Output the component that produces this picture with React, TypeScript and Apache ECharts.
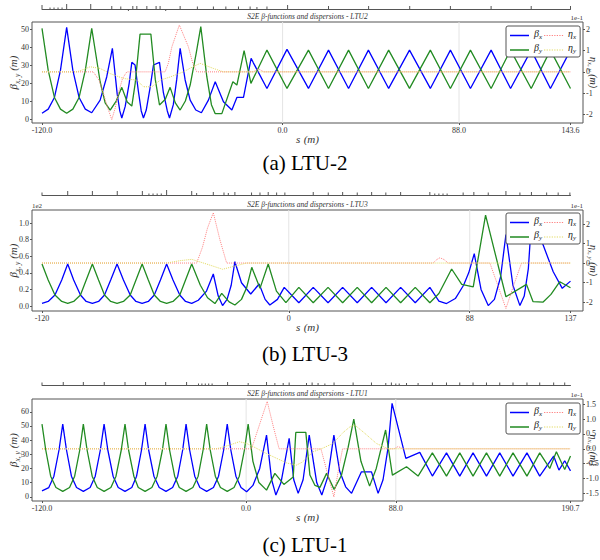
import { useEffect, useRef } from 'react';
import * as echarts from 'echarts';

type Pt = [number, number];

// ---------------- (a) LTU-2 ----------------
const ltu2BetaX: Pt[] = [
  [-120, 3.2], [-116.9, 5.5], [-113.8, 12], [-110.8, 27], [-107.7, 50.9], [-104.6, 27], [-101.5, 12], [-98.4, 5.5],
  [-95.2, 3.5], [-91, 10.5], [-87.7, 23.5], [-84.9, 39.3], [-82.5, 14], [-81.2, 4.5], [-80.2, 0.6], [-78.5, 7],
  [-76.5, 20], [-75.2, 31.5], [-73.6, 30], [-72, 16], [-70.5, 4.5], [-69.4, 0.6], [-68, 5], [-66, 18], [-64.4, 30],
  [-61.4, 31.5], [-59.5, 15], [-57.5, 4.5], [-56.4, 0.6], [-54.5, 8], [-52.8, 22], [-51.1, 39.3], [-48.6, 21.7],
  [-46.1, 10.5], [-43.3, 5], [-40.5, 3.5], [-37, 10.5], [-33.6, 20.7], [-29.5, 9.6], [-25.3, 5], [-22.8, 12],
  [-19.5, 12], [-15.7, 33.7], [-14.7, 31.5], [-7.8, 17], [2.2, 38.7], [12.9, 17], [22.9, 38.3], [32.9, 17],
  [42.8, 38.3], [52.9, 17], [63.3, 38.3], [73.7, 17], [83.7, 38.3], [93.7, 17], [104, 38.3], [113.7, 17],
  [124, 38.3], [133.6, 17], [143.6, 38.3],
];
const ltu2BetaY: Pt[] = [
  [-120, 50.4], [-116.9, 27], [-113.8, 12], [-110.8, 5.5], [-107.7, 3.2], [-104.6, 5.5], [-101.5, 12], [-98.4, 27],
  [-95.2, 50.4], [-91, 20.7], [-88.5, 9], [-86, 5], [-83, 10], [-80.2, 17.6], [-77.5, 9.5], [-75.2, 7.2], [-73.5, 20],
  [-71.1, 47.2], [-65.7, 47.2], [-63.5, 22], [-61.4, 7.8], [-58.5, 11], [-56.1, 17.6], [-53.5, 9], [-51.1, 5],
  [-48.5, 10], [-46.1, 18.9], [-43.1, 36.5], [-40.8, 51.3], [-37.8, 23.5], [-35.5, 8], [-33.6, 3], [-30.3, 3],
  [-24.8, 20.7], [-22.8, 18.9], [-19.2, 38], [-15.8, 19.8], [-7.8, 38.3], [2.2, 17], [12.9, 38.3], [22.9, 17],
  [32.9, 38.3], [42.8, 17], [52.9, 38.3], [63.3, 17], [73.7, 38.3], [83.7, 17], [93.7, 38.3], [104, 17],
  [113.7, 38.3], [124, 17], [133.6, 38.3], [143.6, 17],
];
const ltu2EtaX: Pt[] = [
  [-120, 0], [-94.4, 0], [-91.5, -0.04], [-89.4, -0.1], [-87.2, -0.17], [-85.2, -0.224], [-83.5, -0.17],
  [-81.9, -0.1], [-79.8, -0.03], [-77.7, 0], [-58.6, 0], [-57, 0.04], [-55.2, 0.118], [-51.5, 0.22], [-47, 0.118],
  [-44.8, 0.04], [-42.8, 0], [-14.5, 0], [-12, 0.015], [-9.5, 0], [143.6, 0],
];
const ltu2EtaY: Pt[] = [
  [-120, 0], [-102.7, 0], [-99, 0.012], [-96, 0.024], [-91, 0.016], [-86, -0.008], [-79.4, -0.031], [-72.7, -0.039],
  [-69.4, -0.07], [-65.2, -0.07], [-61.1, -0.039], [-56.1, -0.024], [-49.5, 0], [-44.5, 0.025], [-41.1, 0.04],
  [-34.5, 0.016], [-29.5, 0], [143.6, 0],
];
const ltu2Lattice: Pt[] = [
  [-120, 0.8], [-116, 0.3], [-114, 0.3], [-112, 0.3], [-110, 0.3], [-107.7, 1], [-95.7, 1], [-85.2, 0.6],
  [-80.7, 0.5], [-76.9, -0.4], [-74.7, 0.6], [-72.7, 0.6], [-67.7, 0.6], [-63.1, 0.6], [-61.1, 0.6], [-58.3, -0.4],
  [-51.1, 0.6], [-42.5, 0.5], [-34.5, 0.5], [-28.3, 0.5], [-22, 0.5], [-16.2, 0.5], [-12.8, 0.4], [-7.8, 0.5],
  [2.5, 0.8], [22.9, 0.6], [42.9, 0.6], [63.4, 0.6], [83.7, 0.6], [104, 0.6], [124, 0.6], [143.6, 0.6],
];
const ltu2XTicks = [-120, 0, 88, 143.6];

// ---------------- (b) LTU-3 ----------------
const ltu3BetaX: Pt[] = [
  [-120, 3.2], [-117, 5.5], [-113.7, 13.3], [-110.4, 31.3], [-107.5, 50.6], [-104.6, 31.3], [-101.3, 13.3],
  [-98.5, 5.5], [-95.5, 3.2], [-92.5, 5.5], [-89.6, 13.3], [-86.6, 31.3], [-83.5, 50.6], [-80.4, 31.3],
  [-77.1, 13.3], [-74.3, 5.5], [-71.3, 3.2], [-68.3, 5.5], [-65.4, 13.3], [-62.4, 31.3], [-59.4, 50.6],
  [-56.3, 31.3], [-53, 13.3], [-50.2, 5.5], [-47.2, 3.2], [-44, 7], [-40, 18], [-36.7, 38.6], [-34.3, 12],
  [-32.2, 0.5], [-30, 8], [-28, 25], [-26.2, 53.4], [-23, 28], [-18.5, 14.5], [-14.4, 26.5], [-11.5, 8],
  [-9.2, 1.2], [-5.5, 8], [-2.2, 22.5], [4.9, 4], [11.9, 22.5], [19.1, 4], [26.2, 22.5], [33.3, 4], [40.3, 22.5],
  [47.3, 4], [54.4, 22.5], [61.5, 4], [68.6, 22.5], [73, 6], [76.7, 3], [81, 9], [85, 25], [87.5, 40], [90.2, 63],
  [93.5, 20], [97, 0.5], [100, 8], [103, 35], [105.6, 86], [109, 25], [112.4, 0.5], [114.5, 12], [116.5, 45],
  [118.2, 109.6], [121, 90], [123.7, 73.5], [128.6, 41.3], [133, 21.3], [137, 30],
];
const ltu3BetaY: Pt[] = [
  [-120, 50.6], [-117, 31.3], [-113.7, 13.3], [-110.4, 5.5], [-107.5, 3.2], [-104.6, 5.5], [-101.3, 13.3],
  [-98.5, 31.3], [-95.5, 50.6], [-92.5, 31.3], [-89.6, 13.3], [-86.6, 5.5], [-83.5, 3.2], [-80.4, 5.5],
  [-77.1, 13.3], [-74.3, 31.3], [-71.3, 50.6], [-68.3, 31.3], [-65.4, 13.3], [-62.4, 5.5], [-59.4, 3.2],
  [-56.3, 5.5], [-53, 13.3], [-50.2, 31.3], [-47.2, 50.6], [-43, 25], [-39.5, 10], [-35.9, 3], [-32.6, 15.3],
  [-29, 5], [-26.2, 1.2], [-23, 8], [-20.5, 22], [-18, 46.6], [-14, 21.3], [-10, 50.6], [-6, 18], [-1.4, 4],
  [4.9, 22.5], [11.9, 4], [19.1, 22.5], [26.2, 4], [33.3, 22.5], [40.3, 4], [47.3, 22.5], [54.4, 4], [61.5, 22.5],
  [68.6, 4], [73, 15], [79.2, 44.6], [84.1, 26.1], [89.7, 23], [95.7, 109.6], [105.6, 11.2], [115.6, 26.1],
  [118.8, 5.2], [123.7, 4.8], [127.5, 14], [131.8, 29.3], [137, 22],
];
const ltu3EtaX: Pt[] = [
  [-120, 0], [-44.8, 0], [-42, 0.08], [-39.5, 0.18], [-36.7, 0.258], [-33.5, 0.12], [-30.2, 0], [70.2, 0],
  [72, 0.018], [73.5, 0.027], [75.5, 0.018], [77.5, 0], [97.8, 0], [101.5, -0.11], [105.6, -0.233], [109.5, -0.11],
  [113.2, 0], [137, 0],
];
const ltu3EtaY: Pt[] = [
  [-120, 0], [-59.4, 0], [-53, 0.012], [-47.2, 0.019], [-40, -0.005], [-32.2, -0.032], [-26, -0.015], [-20.5, 0],
  [137, 0],
];
const ltu3Lattice: Pt[] = [
  [-120, 0.5], [-107.5, 0.8], [-95.5, 0.8], [-83.4, 0.8], [-71.2, 0.8], [-68, 0.3], [-66, 0.3], [-64, 0.3],
  [-62, 0.3], [-59.4, 1], [-47.2, 0.8], [-44.8, 0.4], [-36.7, 0.6], [-31.5, 0.5], [-29.4, 0.4], [-26.2, 0.6],
  [-18.1, 0.5], [-14, 0.5], [-10, 0.6], [-5.9, 0.5], [-1.9, 0.5], [11.9, 0.6], [19.2, 0.5], [26.2, 0.6],
  [33.3, 0.5], [40.3, 0.6], [47.2, 0.5], [54.4, 0.6], [68.6, 0.6], [71, 0.3], [73, 0.3], [75, 0.3], [77, 0.3],
  [84.8, 0.5], [90, 0.6], [97, 0.5], [105.6, 0.8], [112.4, 0.5], [118, 0.6], [125.4, 0.5], [131, 0.5], [136.7, 0.5],
];
const ltu3XTicks = [-120, 0, 88, 137];

// ---------------- (c) LTU-1 ----------------
const ltu1BetaX: Pt[] = [
  [-120, 4.2], [-116, 6.5], [-113, 14.5], [-110, 33], [-107.8, 51.3], [-105.6, 33], [-102.7, 14.5], [-99.7, 6.5],
  [-95.7, 3.8], [-91.7, 6.5], [-88.7, 14.5], [-85.7, 33], [-83.5, 51.3], [-81.3, 33], [-78.2, 14.5], [-75.2, 6.5],
  [-71.2, 3.8], [-67.2, 6.5], [-64.4, 14.5], [-61.5, 33], [-59.4, 51.3], [-57.3, 33], [-54.2, 14.5], [-51.1, 6.5],
  [-47.1, 3.8], [-43.2, 6.5], [-40.2, 14.5], [-37.3, 33], [-35.3, 51.3], [-33.2, 33], [-30.2, 14.5], [-27.2, 6.5],
  [-23.2, 3.8], [-19.2, 6.5], [-16.2, 14.5], [-13.2, 33], [-11.1, 51.3], [-9, 33], [-6, 14.5], [-3, 6.5],
  [0.3, 3.5], [4, 8], [8, 20], [12, 43.5], [15, 12], [17.5, 1.2], [20.5, 10], [25.3, 41.2], [28, 12], [30.6, 2.4],
  [33.5, 12], [37.1, 43.5], [41.5, 10], [44.5, 1.2], [48, 14], [51.6, 43.5], [55, 18], [58.5, 7], [62, 2.4],
  [67.8, 17.6], [73.7, 17.6], [77.6, 2.4], [80.5, 12], [83.5, 35], [85.8, 65.9], [93.9, 27.1], [102.1, 31.3],
  [109.5, 14.6], [117.8, 31], [125.6, 14.6], [133.4, 31], [141.3, 14.6], [149.1, 31], [156.9, 14.6], [165.1, 31],
  [172.6, 14.6], [180.8, 28.7], [183.9, 18.8], [187.3, 25.4], [190.7, 18.3],
];
const ltu1BetaY: Pt[] = [
  [-120, 51.3], [-117.8, 33], [-114.9, 14.5], [-111.8, 6.5], [-107.8, 3.8], [-103.8, 6.5], [-100.8, 14.5],
  [-97.8, 33], [-95.7, 51.3], [-93.5, 33], [-90.5, 14.5], [-87.5, 6.5], [-83.5, 3.8], [-79.5, 6.5], [-76.5, 14.5],
  [-73.4, 33], [-71.2, 51.3], [-69.1, 33], [-66, 14.5], [-63.4, 6.5], [-59.4, 3.8], [-55.4, 6.5], [-52.3, 14.5],
  [-49.2, 33], [-47.1, 51.3], [-45, 33], [-42, 14.5], [-39.3, 6.5], [-35.3, 3.8], [-31.3, 6.5], [-28.2, 14.5],
  [-25.3, 33], [-23.2, 51.3], [-21.1, 33], [-18.1, 14.5], [-15.1, 6.5], [-11.1, 3.8], [-7.1, 6.5], [-4, 14.5],
  [-1, 33], [1.2, 51.3], [4, 25], [7.5, 10], [12, 4.7], [16.9, 16.5], [22.2, 8.7], [27.7, 14], [29.2, 45.4],
  [35.1, 45.4], [37.5, 15.3], [40.5, 8], [43.4, 6.6], [47.3, 16.5], [51.7, 5.2], [56, 15], [60, 35], [63.3, 54.8],
  [67.5, 25], [72.6, 7.5], [76.5, 20], [82, 47.1], [86, 15.3], [94.3, 21.2], [101.1, 14.6], [109.5, 31],
  [117.8, 14.6], [125.6, 31], [133.4, 14.6], [141.3, 31], [149.1, 14.6], [156.9, 31], [165.1, 14.6], [172.6, 31],
  [178.5, 20], [182.4, 31.8], [187.3, 19.3], [190.7, 28.7],
];
const ltu1EtaX: Pt[] = [
  [-120, 0], [3.2, 0], [7.5, 0.075], [12.4, 0.16], [16, 0.075], [19.4, 0], [44, 0], [47, -0.065], [51.6, -0.162],
  [54, -0.08], [56.7, 0], [87, 0], [89.4, 0.008], [92, 0], [190.7, 0],
];
const ltu1EtaY: Pt[] = [
  [-120, 0], [-17.4, 0], [-10, 0.012], [-4, 0.024], [0.3, 0.018], [5, 0.005], [12, -0.016], [17.9, -0.032],
  [24, -0.048], [29.6, -0.055], [33, -0.045], [39.4, -0.01], [45, 0.002], [51, 0.018], [57, 0.055], [61, 0.074],
  [63.9, 0.08], [68.8, 0.057], [76.6, 0.018], [83.5, 0], [190.7, 0],
];
const ltu1Lattice: Pt[] = [
  [-120, 0.5], [-107.5, 0.6], [-95.7, 0.6], [-83.4, 0.6], [-71.2, 0.6], [-59.1, 0.6], [-47.3, 0.6], [-35, 0.6],
  [-28, 0.3], [-26, 0.3], [-24, 0.3], [-22, 0.3], [-20, 0.3], [-10.9, 0.6], [1.2, 0.4], [12, 0.6], [16.9, 0.4],
  [21.8, 0.4], [25.3, 0.5], [35.5, 0.4], [38.8, 0.5], [42.3, 0.4], [46.3, 0.3], [51.7, 0.5], [62.9, 0.5],
  [73.7, 0.5], [82.1, 0.4], [85.4, 0.5], [88, 0.3], [90, 0.3], [94.3, 0.4], [101.1, 0.4], [109.5, 0.5],
  [117.8, 0.5], [125.6, 0.5], [133.4, 0.5], [141.3, 0.5], [149.1, 0.5], [156.9, 0.5], [165.1, 0.5], [172.6, 0.5],
  [180.8, 0.5], [187.3, 0.5],
];
const ltu1XTicks = [-120, 0, 88, 190.7];

const gridLines = [0, 88];
const seriesNames = ['β_x', 'η_x', 'β_y', 'η_y'];
const titles = [
  'S2E β-functions and dispersions - LTU2',
  'S2E β-functions and dispersions - LTU3',
  'S2E β-functions and dispersions - LTU1',
];
const captions = ['(a) LTU-2', '(b) LTU-3', '(c) LTU-1'];

// ---------------- layout / style ----------------
const SERIF = "'Liberation Serif', 'Times New Roman', 'DejaVu Serif', serif";
const BLUE = '#0000ff';
const GREEN = '#228b22';
const RED = '#ff8080';
const YELLOW = '#e2da60';
const FRAME = '#555555';
const TEXT = '#333333';
const GRID_LEFT = 32;
const GRID_RIGHT = 17;
const PAD_L = 10;
const PAD_R = 12.5;
const PLOT_W = 600 - GRID_LEFT - GRID_RIGHT;

const panels = [
  {
    bx: ltu2BetaX, by: ltu2BetaY, ex: ltu2EtaX, ey: ltu2EtaY, lat: ltu2Lattice, ticks: ltu2XTicks, dec: 1,
    top: 22, height: 101, strip: 9, bRange: [-2.2, 53.9], eRange: [-0.24, 0.234], bScale: 1, eDec: 0,
    legendTop: 26, captionY: 163, leftExp: '',
  },
  {
    bx: ltu3BetaX, by: ltu3BetaY, ex: ltu3EtaX, ey: ltu3EtaY, lat: ltu3Lattice, ticks: ltu3XTicks, dec: 0,
    top: 210, height: 101, strip: 195, bRange: [-6, 115.7], eRange: [-0.246, 0.272], bScale: 100, eDec: 0,
    legendTop: 213, captionY: 354, leftExp: '1e2',
  },
  {
    bx: ltu1BetaX, by: ltu1BetaY, ex: ltu1EtaX, ey: ltu1EtaY, lat: ltu1Lattice, ticks: ltu1XTicks, dec: 1,
    top: 399, height: 102, strip: 385, bRange: [-3, 69], eRange: [-0.176, 0.168], bScale: 1, eDec: 1,
    legendTop: 403, captionY: 545, leftExp: '',
  },
];

// legend icons: a thin line (solid) or a row of dots (dotted), inside a 20x10 box
function lineIcon(dotted: boolean): string {
  const edges = 'M0,0h0.01v0.01h-0.01z M0,9.99h0.01v0.01h-0.01z ';
  if (!dotted) return 'path://' + edges + 'M0,4.3h20v1.4h-20z';
  let d = edges;
  for (let x = 0; x < 19.5; x += 2.5) d += `M${x},4.4h1.2v1.2h-1.2z `;
  return 'path://' + d;
}

const legendRich = {
  g: { fontFamily: SERIF, fontStyle: 'italic', fontSize: 10, color: '#222', verticalAlign: 'bottom', lineHeight: 9, padding: [0, 0, 2, 0] },
  s: { fontFamily: SERIF, fontStyle: 'italic', fontSize: 7, color: '#222', verticalAlign: 'bottom', lineHeight: 7 },
};
const nameRich = {
  g: { fontFamily: SERIF, fontStyle: 'italic', fontSize: 11, color: TEXT, verticalAlign: 'bottom', lineHeight: 11, padding: [0, 0, 3, 0] },
  s: { fontFamily: SERIF, fontStyle: 'italic', fontSize: 7.5, color: TEXT, verticalAlign: 'bottom', lineHeight: 8 },
};
const nameRichSmall = {
  g: { fontFamily: SERIF, fontStyle: 'italic', fontSize: 10, color: TEXT, verticalAlign: 'bottom', lineHeight: 10, padding: [0, 0, 2, 0] },
  s: { fontFamily: SERIF, fontStyle: 'italic', fontSize: 7, color: TEXT, verticalAlign: 'bottom', lineHeight: 7 },
};
const labelStyle = { fontFamily: SERIF, fontSize: 8, color: TEXT };

function buildOption() {
  const grid: any[] = [];
  const xAxis: any[] = [];
  const yAxis: any[] = [];
  const series: any[] = [];
  const legend: any[] = [];
  const graphic: any[] = [];

  panels.forEach((p, i) => {
    const s0 = p.bx[0][0];
    const s1 = p.bx[p.bx.length - 1][0];
    const k = (PLOT_W - PAD_L - PAD_R) / (s1 - s0);
    const xMin = s0 - PAD_L / k;
    const xMax = s1 + PAD_R / k;
    const gMain = 2 * i;
    const gStrip = 2 * i + 1;

    grid.push({
      left: GRID_LEFT, right: GRID_RIGHT, top: p.top, height: p.height, show: true,
      borderColor: FRAME, borderWidth: 1, containLabel: false, outerBoundsMode: 'none',
    });
    grid.push({
      left: GRID_LEFT + PAD_L, right: GRID_RIGHT + PAD_R, top: p.strip - 5, height: 10,
      containLabel: false, outerBoundsMode: 'none',
    });

    xAxis.push({
      gridIndex: gMain, type: 'value', min: xMin, max: xMax, position: 'bottom',
      name: '{g|s} {g|(m)}', nameLocation: 'middle', nameGap: 12, nameMoveOverlap: false,
      nameTextStyle: { rich: nameRich },
      axisLine: { show: false, onZero: false }, splitLine: { show: false },
      axisTick: { show: true, customValues: p.ticks, length: 2, lineStyle: { color: FRAME } },
      axisLabel: {
        ...labelStyle, customValues: p.ticks, margin: 3,
        color: () => TEXT,
        formatter: (v: number) => v.toFixed(p.dec),
      },
    });
    xAxis.push({
      gridIndex: gStrip, type: 'value', min: s0, max: s1,
      axisLine: { show: true, onZero: true, lineStyle: { color: FRAME, width: 1 } },
      axisTick: { show: false }, axisLabel: { show: false }, splitLine: { show: false },
    });

    yAxis.push({
      gridIndex: gMain, type: 'value', position: 'left', min: p.bRange[0], max: p.bRange[1],
      name: '{g|β}{s|x, y}{g| (m)}', nameLocation: 'middle', nameRotate: 90, nameGap: 11, nameMoveOverlap: false,
      nameTextStyle: { rich: nameRich },
      axisLine: { show: false, onZero: false }, splitLine: { show: false },
      axisTick: { show: true, length: 2, lineStyle: { color: FRAME } },
      axisLabel: {
        ...labelStyle, margin: 3, showMinLabel: false, showMaxLabel: false,
        formatter: (v: number) => (p.bScale === 1 ? String(Math.round(v)) : (v / p.bScale).toFixed(1)),
      },
    });
    yAxis.push({
      gridIndex: gMain, type: 'value', position: 'right', min: p.eRange[0], max: p.eRange[1],
      name: '{g|η}{s|x, y}{g| (m)}', nameLocation: 'middle', nameRotate: -90, nameGap: 3, nameMoveOverlap: false,
      nameTextStyle: { rich: nameRichSmall },
      axisLine: { show: false, onZero: false }, splitLine: { show: false },
      axisTick: { show: true, length: 2, lineStyle: { color: FRAME } },
      axisLabel: {
        ...labelStyle, margin: 3, showMinLabel: false, showMaxLabel: false,
        formatter: (v: number) => {
          const t = (v * 10).toFixed(p.eDec);
          return t === '-0' || t === '-0.0' ? t.slice(1) : t;
        },
      },
    });
    yAxis.push({ gridIndex: gStrip, type: 'value', min: -1, max: 1, show: false });

    const xi = 2 * i;
    const yl = 3 * i;
    const yr = 3 * i + 1;
    const base = { type: 'line', xAxisIndex: xi, symbol: 'none', showSymbol: false, silent: true };

    series.push({
      ...base, name: seriesNames[0], yAxisIndex: yl, data: p.bx, z: 3,
      lineStyle: { color: BLUE, width: 1.3 }, itemStyle: { color: BLUE },
    });
    series.push({
      ...base, name: seriesNames[2], yAxisIndex: yl, data: p.by, z: 3,
      lineStyle: { color: GREEN, width: 1.3 }, itemStyle: { color: GREEN },
    });
    series.push({
      ...base, name: seriesNames[1], yAxisIndex: yr, data: p.ex, z: 4,
      lineStyle: { color: RED, width: 1, type: 'dotted' }, itemStyle: { color: RED },
    });
    series.push({
      ...base, name: seriesNames[3], yAxisIndex: yr, data: p.ey, z: 4,
      lineStyle: { color: YELLOW, width: 1, type: 'dotted' }, itemStyle: { color: YELLOW },
    });
    series.push({
      type: 'custom', xAxisIndex: 2 * i + 1, yAxisIndex: 3 * i + 2, data: p.lat, silent: true,
      renderItem: (_params: any, api: any) => {
        const s = api.value(0);
        const h = api.value(1);
        const a = api.coord([s, 0]);
        const b = api.coord([s, h]);
        return { type: 'line', shape: { x1: a[0], y1: a[1], x2: b[0], y2: b[1] }, style: { stroke: FRAME, lineWidth: 1 } };
      },
    });

    legend.push({
      data: [
        { name: seriesNames[0], icon: lineIcon(false) },
        { name: seriesNames[1], icon: lineIcon(true) },
        { name: seriesNames[2], icon: lineIcon(false) },
        { name: seriesNames[3], icon: lineIcon(true) },
      ],
      left: 506, top: p.legendTop, width: 80, orient: 'horizontal',
      itemWidth: 19, itemHeight: 10, itemGap: 2, padding: [2, 4, 2, 4], symbolKeepAspect: false,
      borderColor: FRAME, borderWidth: 1, borderRadius: 2, backgroundColor: '#ffffff',
      selectedMode: false,
      formatter: (name: string) => `{g|${name.charAt(0)}}{s|${name.charAt(2)}}`,
      textStyle: { rich: legendRich },
    });

    const cx = GRID_LEFT + PLOT_W / 2;
    graphic.push({
      type: 'text', x: cx, y: p.top - 2, silent: true,
      style: {
        text: titles[i], fontFamily: SERIF, fontStyle: 'italic', fontSize: 7.5, fill: TEXT,
        align: 'center', verticalAlign: 'bottom', textAlign: 'center', textVerticalAlign: 'bottom',
      },
    });
    graphic.push({
      type: 'text', x: GRID_LEFT + PLOT_W, y: p.top - 1, silent: true,
      style: {
        text: '1e-1', fontFamily: SERIF, fontSize: 7, fill: TEXT,
        align: 'right', verticalAlign: 'bottom', textAlign: 'right', textVerticalAlign: 'bottom',
      },
    });
    if (p.leftExp) {
      graphic.push({
        type: 'text', x: GRID_LEFT, y: p.top - 1, silent: true,
        style: {
          text: p.leftExp, fontFamily: SERIF, fontSize: 7, fill: TEXT,
          align: 'left', verticalAlign: 'bottom', textAlign: 'left', textVerticalAlign: 'bottom',
        },
      });
    }
    graphic.push({
      type: 'text', x: 305, y: p.captionY, silent: true,
      style: {
        text: captions[i], fontFamily: SERIF, fontSize: 21, fill: '#000',
        align: 'center', verticalAlign: 'middle', textAlign: 'center', textVerticalAlign: 'middle',
      },
    });
  });

  return { animation: false, backgroundColor: '#ffffff', grid, xAxis, yAxis, series, legend, graphic };
}

export default function App() {
  const ref = useRef<HTMLDivElement>(null);
  useEffect(() => {
    if (!ref.current) return;
    const chart = echarts.init(ref.current, undefined, { renderer: 'svg' });
    const option = buildOption();
    chart.setOption(option as any);
    // faint vertical reference lines at s = 0 and s = 88, placed through the axis scale
    const extra: any[] = [];
    panels.forEach((p, i) => {
      gridLines.forEach((g) => {
        const x = chart.convertToPixel({ xAxisIndex: 2 * i } as any, g) as unknown as number;
        if (typeof x === 'number' && isFinite(x)) {
          extra.push({
            type: 'line', silent: true, z: 0,
            shape: { x1: x, y1: p.top, x2: x, y2: p.top + p.height },
            style: { stroke: '#e4e4e4', lineWidth: 1 },
          });
        }
      });
    });
    chart.setOption({ graphic: [...option.graphic, ...extra] } as any);
    return () => chart.dispose();
  }, []);
  return <div ref={ref} style={{ position: 'absolute', left: 0, top: 0, width: 600, height: 560 }} />;
}
